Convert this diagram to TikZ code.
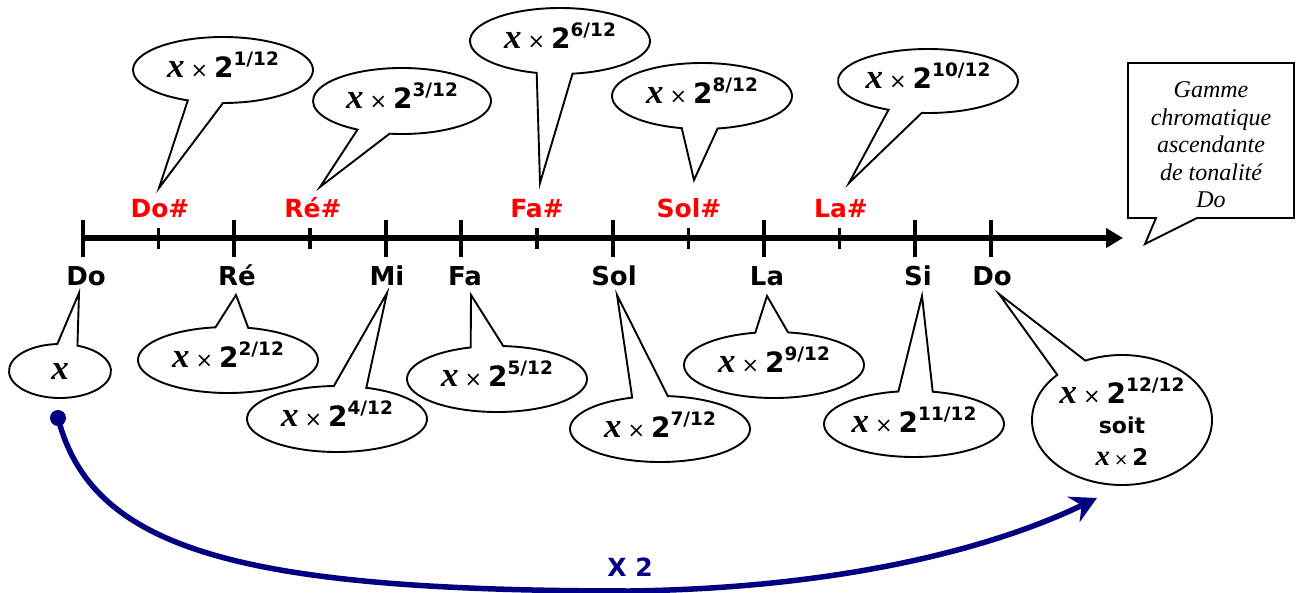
\documentclass[tikz,border=0pt]{standalone}
\usepackage{fontspec}
\setmainfont{DejaVu Sans}
\newfontfamily\timesf{Liberation Serif}
\usetikzlibrary{arrows.meta,calc}
\definecolor{navyb}{RGB}{0,0,128}
\definecolor{notered}{RGB}{255,0,0}
\newcommand\xit[1]{{\timesf\bfseries\itshape\fontsize{#1}{#1}\selectfont x}}
\newcommand\powval[1]{\xit{35}\hspace{6pt}{\fontsize{21}{21}\selectfont ×}\hspace{6pt}{\bfseries\fontsize{28}{28}\selectfont 2\raisebox{12pt}{\fontsize{18.5}{18.5}\selectfont #1}}}
% callout outline: cx, cy, rx, ry, angle a, angle b, tip x, tip y
\newcommand\callshape[8]{%
  \draw[bubble] ($(#1,-#2)+(#6:#3pt and #4pt)$) arc[start angle=#6, end angle={#5+360}, x radius=#3pt, y radius=#4pt] -- (#7,-#8) -- cycle;}
\begin{document}
\begin{tikzpicture}[x=1pt,y=1pt,
  bubble/.style={draw=black, line width=1.9pt, fill=white, line join=miter},
  notelab/.style={font=\bfseries\fontsize{26}{26}\selectfont, anchor=base, inner sep=0},
  sharplab/.style={notelab, font=\bfseries\fontsize{25}{25}\selectfont, text=notered},
  valtext/.style={anchor=base, inner sep=0},
  majortick/.style={line width=4pt},
  minortick/.style={line width=3.5pt},
  bluearrow/.style={draw=navyb, line width=5.5pt, -{Stealth[length=26pt,width=28pt,inset=9pt]}}]
\useasboundingbox (0,0) rectangle (1296,-593);

% axis
\coordinate (axstart) at (83,-238);
\coordinate (axend) at (1123,-238);
\draw[line width=6.5pt, -{Triangle[length=17pt,width=19pt]}] (axstart) -- (axend);
\foreach \k in {0,2,4,5,7,9,11,12} {
  \draw[majortick] ({83+75.67*\k},-220) -- ({83+75.67*\k},-257);
}
\foreach \k in {1,3,6,8,10} {
  \draw[minortick] ({83+75.67*\k},-228) -- ({83+75.67*\k},-249);
}

% natural notes
\node[notelab] (ldo) at (86,-286) {Do};
\node[notelab] (lre) at (237,-286) {Ré};
\node[notelab] (lmi) at (387,-286) {Mi};
\node[notelab] (lfa) at (465,-286) {Fa};
\node[notelab] (lsol) at (614,-286) {Sol};
\node[notelab] (lla) at (767,-286) {La};
\node[notelab] (lsi) at (918,-286) {Si};
\node[notelab] (ldo2) at (992,-286) {Do};

% sharps
\node[sharplab] (sdo) at (160,-218) {Do\#};
\node[sharplab] (sre) at (313,-218) {Ré\#};
\node[sharplab] (sfa) at (537,-218) {Fa\#};
\node[sharplab] (ssol) at (689,-218) {Sol\#};
\node[sharplab] (sla) at (841,-218) {La\#};

% upper callouts
\callshape{223}{70}{90}{33}{247}{270}{159}{188}
\node[valtext] (v1) at (223,-78) {\powval{1/12}};
\callshape{402}{101}{89}{33}{240}{262}{320}{187}
\node[valtext] (v3) at (402,-109) {\powval{3/12}};
\callshape{560}{41}{90}{33}{255}{278}{540}{183}
\node[valtext] (v6) at (560,-49) {\powval{6/12}};
\callshape{702}{96}{90}{33}{257}{280}{694}{180}
\node[valtext] (v8) at (702,-104) {\powval{8/12}};
\callshape{928}{81}{90}{32}{244}{266}{849}{183}
\node[valtext] (v10) at (928,-89) {\powval{10/12}};

% Gamme box
\draw[bubble] (1128,-63) -- (1294,-63) -- (1294,-218) -- (1197,-218) -- (1145,-244) -- (1156,-218) -- (1128,-218) -- cycle;
\node[align=center, inner sep=0, font=\timesf\itshape\fontsize{24}{27.5}\selectfont] (gamme) at (1211,-145) {Gamme\\chromatique\\ascendante\\de tonalité\\Do};

% lower callouts
\callshape{60}{371}{51}{27}{70}{93}{79}{293}
\node[valtext] (v0) at (60,-380) {\xit{35}};
\callshape{228}{360}{90}{33}{77}{98}{236}{295}
\node[valtext] (v2) at (228,-368) {\powval{2/12}};
\callshape{337}{419}{90}{33}{71}{92}{387}{293}
\node[valtext] (v4) at (337,-427) {\powval{4/12}};
\callshape{497}{379}{90}{33}{86}{107}{471}{295}
\node[valtext] (v5) at (497,-387) {\powval{5/12}};
\callshape{660}{429}{90}{33}{85}{108}{617}{295}
\node[valtext] (v7) at (660,-437) {\powval{7/12}};
\callshape{774}{365}{90}{33}{81}{102}{767}{296}
\node[valtext] (v9) at (774,-373) {\powval{9/12}};
\callshape{914}{424}{90}{33}{78}{100}{922}{296}
\node[valtext] (v11) at (914,-432) {\powval{11/12}};
\callshape{1122}{420}{90}{65}{114}{136}{999}{294}
\node[valtext] (v12a) at (1122,-404) {\powval{12/12}};
\node[valtext, font=\bfseries\fontsize{22}{22}\selectfont] (v12b) at (1122,-433) {soit};
\node[valtext] (v12c) at (1122,-465) {\xit{29}\hspace{4pt}{\fontsize{17}{17}\selectfont ×}\hspace{4pt}{\bfseries\fontsize{23}{23}\selectfont 2}};

% blue doubling arrow
\node[circle, fill=navyb, inner sep=0, minimum size=16pt] (dot) at (58,-418) {};
\coordinate (arrowtip) at (1097,-498);
\draw[bluearrow] (dot.center) .. controls (92,-550) and (240,-591) .. (630,-591) .. controls (850,-588) and (1000,-545) .. (arrowtip);
\node[font=\bfseries\fontsize{25}{25}\selectfont, text=navyb, inner sep=0] (times2) at (630,-567) {X 2};
\end{tikzpicture}
\end{document}
